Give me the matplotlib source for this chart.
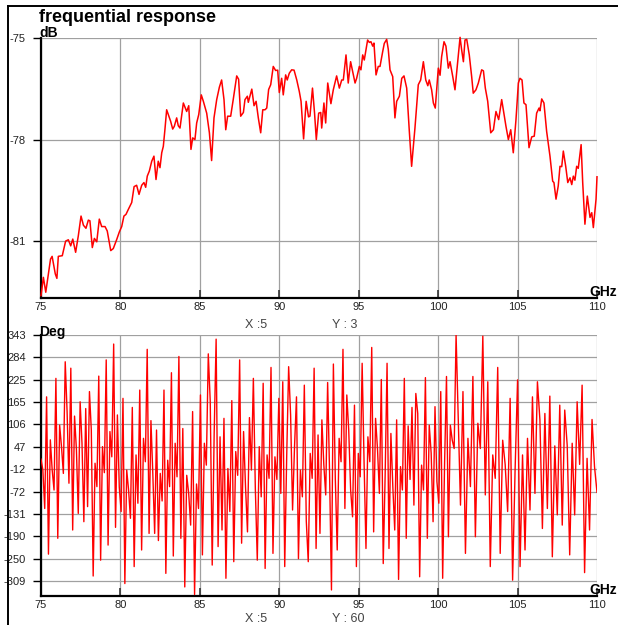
"""
Frequential response of a channel: magnitude (dB) and phase (Deg) vs frequency.
Values read off the reference picture.
"""
import matplotlib
matplotlib.use("Agg")
import matplotlib.pyplot as plt
import numpy as np
from matplotlib.lines import Line2D


# ---- magnitude trace (GHz, dB) ----
MAG_FREQ = [
    75.0, 75.15, 75.3, 75.6, 75.7, 75.9, 76.0, 76.09, 76.34, 76.55, 76.72, 76.87, 77.0,
    77.18, 77.35, 77.52, 77.67, 77.83, 77.98, 78.08, 78.23, 78.36, 78.51, 78.67, 78.82,
    79.03, 79.17, 79.39, 79.55, 79.76, 79.93, 80.08, 80.22, 80.35, 80.5, 80.71, 80.86,
    81.02, 81.17, 81.34, 81.48, 81.59, 81.69, 81.82, 81.97, 82.11, 82.24, 82.38, 82.49,
    82.6, 82.7, 82.8, 82.91, 83.01, 83.16, 83.29, 83.39, 83.54, 83.64, 83.75, 83.96,
    84.06, 84.17, 84.3, 84.44, 84.55, 84.69, 84.8, 84.93, 85.09, 85.22, 85.43, 85.6,
    85.74, 85.89, 86.06, 86.23, 86.37, 86.52, 86.63, 86.75, 86.94, 87.1, 87.32, 87.44,
    87.57, 87.74, 87.84, 87.99, 88.05, 88.27, 88.41, 88.54, 88.68, 88.83, 88.96, 89.1,
    89.21, 89.33, 89.46, 89.62, 89.77, 89.9, 90.0, 90.15, 90.25, 90.4, 90.5, 90.63,
    90.78, 90.93, 91.1, 91.26, 91.37, 91.53, 91.69, 91.84, 91.93, 92.09, 92.22, 92.33,
    92.48, 92.61, 92.67, 92.81, 92.92, 93.05, 93.25, 93.4, 93.61, 93.78, 93.93, 94.03,
    94.2, 94.34, 94.49, 94.62, 94.77, 94.87, 95.04, 95.14, 95.25, 95.35, 95.46, 95.56,
    95.67, 95.77, 95.88, 95.96, 96.09, 96.23, 96.34, 96.51, 96.61, 96.76, 96.86, 96.97,
    97.14, 97.28, 97.39, 97.56, 97.71, 97.85, 98.02, 98.18, 98.33, 98.54, 98.75, 98.9,
    99.07, 99.22, 99.35, 99.44, 99.59, 99.7, 99.82, 100.01, 100.12, 100.22, 100.37,
    100.49, 100.64, 100.75, 100.92, 101.06, 101.21, 101.38, 101.48, 101.59, 101.69,
    101.8, 101.96, 102.11, 102.21, 102.38, 102.53, 102.74, 102.85, 102.97, 103.12,
    103.31, 103.48, 103.64, 103.81, 104.0, 104.15, 104.27, 104.42, 104.57, 104.73,
    104.9, 105.05, 105.15, 105.28, 105.4, 105.53, 105.72, 105.89, 106.05, 106.2, 106.35,
    106.41, 106.52, 106.66, 106.83, 107.04, 107.21, 107.29, 107.42, 107.56, 107.67,
    107.78, 107.88, 108.03, 108.16, 108.3, 108.41, 108.51, 108.61, 108.72, 108.82,
    109.0, 109.1, 109.24, 109.39, 109.56, 109.67, 109.77, 109.94, 110.0,
]
MAG_DB = [
    -82.61, -82.07, -82.51, -81.53, -81.45, -81.97, -82.10, -81.45, -81.43, -81.0, -80.96,
    -81.14, -80.94, -81.33, -80.84, -80.26, -80.53, -80.62, -80.38, -80.40, -81.19, -80.92,
    -81.02, -80.35, -80.57, -80.57, -80.70, -81.28, -81.22, -80.96, -80.73, -80.57, -80.26,
    -80.21, -80.06, -79.86, -79.39, -79.35, -79.62, -79.35, -79.27, -79.41, -79.08, -78.93,
    -78.64, -78.49, -79.18, -78.64, -78.83, -78.39, -78.2, -77.71, -77.12, -77.26, -77.46,
    -77.69, -77.61, -77.36, -77.59, -77.66, -76.92, -77.04, -77.17, -77.0, -78.29, -77.95,
    -78.0, -77.51, -77.26, -76.68, -76.87, -77.22, -77.80, -78.62, -77.36, -76.82, -76.45,
    -76.24, -76.82, -77.71, -77.31, -77.31, -76.82, -76.12, -76.22, -77.31, -77.2, -76.82,
    -76.72, -76.9, -76.51, -77.0, -76.87, -77.36, -77.80, -77.12, -77.12, -77.07, -76.52,
    -76.38, -75.84, -75.96, -75.95, -76.61, -76.19, -76.68, -76.09, -76.24, -76.04, -75.94,
    -75.95, -76.24, -76.58, -76.87, -77.98, -76.87, -77.33, -77.31, -76.48, -77.22, -78.0,
    -77.22, -77.2, -77.66, -76.92, -77.51, -76.33, -76.94, -76.53, -76.12, -76.48, -76.24,
    -76.24, -75.5, -76.33, -75.7, -75.99, -76.33, -76.19, -75.84, -75.94, -75.5, -75.65,
    -75.35, -75.06, -75.13, -75.11, -75.24, -75.15, -76.09, -75.84, -75.84, -75.4, -75.16,
    -75.04, -75.33, -75.94, -76.14, -77.36, -76.87, -76.72, -76.19, -76.12, -76.48, -77.71,
    -78.79, -77.66, -76.38, -76.24, -75.7, -76.24, -76.41, -76.24, -76.53, -76.92, -77.07,
    -75.89, -76.1, -75.55, -75.11, -75.24, -75.89, -75.7, -76.14, -76.53, -75.79, -74.98,
    -75.35, -75.7, -75.06, -75.04, -75.5, -76.14, -76.63, -76.53, -76.33, -75.94, -75.97,
    -76.48, -76.87, -77.80, -77.71, -77.17, -77.41, -76.82, -77.26, -77.61, -78.0, -77.71,
    -78.39, -77.41, -76.33, -76.19, -76.24, -76.92, -76.97, -78.24, -77.92, -77.9, -77.22,
    -77.07, -77.15, -76.8, -76.92, -77.76, -78.49, -79.23, -79.27, -79.76, -79.37, -78.79,
    -78.8, -78.34, -78.79, -79.27, -79.13, -79.33, -79.08, -79.2, -78.79, -78.85, -78.15,
    -79.27, -80.5, -79.67, -80.3, -80.16, -80.6, -79.76, -79.1,
]

# ---- phase trace (Deg), read in four stretches of the band ----
PHASE_BOUNDS = [75.0, 83.68, 92.44, 101.25, 110.0]
PHASE_A = [
    14, -15, -117, 179, -238, 65, -15, -68, 228, -196, 104, 47, -24, 272, 140, -50, 255,
    -174, 128, 40, -130, 166, 56, -152, 148, -112, 193, 91, -296, 3, -59, 234, -254, 47,
    -22, 277, -214, 87, 20, 319, -167, 131, -60, -125, 175, -316, -15, -68, -143, 151,
    -271, 25, -103, 197, -227, 69, 7, 305, -183, 116, -24, -183, 91, -202, -24, -97, 197,
    -289, 11, -59, 243, -243, 56, -33, 286,
]
PHASE_B = [
    -196, 95, -325, -29, -77, -161, 140, -345, -52, -117, 184, -240, 56, -2, 293, 166,
    -267, 82, 332, -218, 73, -174, 122, -302, -11, -125, 169, -258, 34, -29, 277, -209,
    87, -60, -179, 124, -15, 228, -64, -254, 47, -86, 215, -276, 25, -37, 257, -236, 20,
    -40, 175, -77, 219, -271, 20, 259, 131, -121, 47, 179, -250, -15, -86, 210, -150,
    -258, 29, -37, 255, -223, 78,
]
PHASE_C = [
    -183, 118, 0, -81, 217, -20, -333, 266, -37, -227, 69, 7, 305, -117, 184, 91, -68,
    -139, 157, -271, 29, -33, 268, 7, -223, 73, 7, 310, -179, 122, 42, -77, 225, -263,
    -29, 268, -223, 82, -59, -174, 118, -305, -6, -68, 228, -196, 102, -40, 151, -108,
    188, 135, -298, -2, -68, 230, -196, 104, 30, -152, 153, -46, -103, 193, -302, 3, 233,
    -192, 104, 64, 42, 343, 151,
]
PHASE_D = [
    -108, 193, -236, 69, -59, 233, -192, 109, 42, 340, -81, 219, -271, 25, -37, 257, -236,
    64, 0, -125, 175, -307, -15, 224, -271, 25, -227, 69, -121, 179, -77, 219, 118, -170,
    135, -117, 181, -245, 49, -134, 157, -161, 144, 50, -240, 56, -134, 166, 0, 210, -287,
    16, -174, 119, -6, -74,
]

X_TICKS = [75, 80, 85, 90, 95, 100, 105, 110]
DB_TICKS = [-75, -78, -81]
DEG_TICKS = [343, 284, 225, 165, 106, 47, -12, -72, -131, -190, -250, -309]

RED = "#ff0000"
GRID = "#a0a0a0"
TICK_FONT = dict(family="Liberation Sans", size=8, color="#222222")


def phase_frequencies():
    parts = []
    for i, seg in enumerate([PHASE_A, PHASE_B, PHASE_C, PHASE_D]):
        lo, hi = PHASE_BOUNDS[i], PHASE_BOUNDS[i + 1]
        if i == 0:
            parts.append(np.linspace(lo, hi, len(seg)))
        else:
            parts.append(np.linspace(lo, hi, len(seg) + 1)[1:])
    return np.concatenate(parts)


def style_axes(ax, yticks, ylim):
    ax.set_xlim(75, 110)
    ax.set_ylim(*ylim)
    ax.set_xticks(X_TICKS)
    ax.set_yticks(yticks)
    ax.set_yticklabels([str(v) for v in yticks], **TICK_FONT)
    ax.set_xticklabels([str(v) for v in X_TICKS], **TICK_FONT)
    ax.grid(True, color=GRID, lw=0.9, zorder=0)
    ax.set_axisbelow(True)
    for side in ["top", "right"]:
        ax.spines[side].set_visible(False)
    for side in ["left", "bottom"]:
        ax.spines[side].set_linewidth(1.6)
        ax.spines[side].set_color("black")
    ax.tick_params(axis="y", direction="out", length=6, width=1, pad=5, color="black")
    ax.tick_params(axis="x", direction="in", length=6, width=1.2, pad=3, color="#333333")


if __name__ == "__main__":
    fig = plt.figure(figsize=(6.18, 6.25), dpi=100)

    ax_top = fig.add_axes([41 / 618, 1 - 298 / 625, 556 / 618, 260 / 625])
    ax_bot = fig.add_axes([41 / 618, 1 - 596 / 625, 556 / 618, 261 / 625])

    ax_top.plot(MAG_FREQ, MAG_DB, color=RED, lw=1.1, zorder=3, clip_on=False)
    style_axes(ax_top, DB_TICKS, (-82.68, -75))

    phase = PHASE_A + PHASE_B + PHASE_C + PHASE_D
    ax_bot.plot(phase_frequencies(), phase, color=RED, lw=1.0, zorder=3)
    style_axes(ax_bot, DEG_TICKS, (-349, 343))

    # outer frame (left and top edge)
    fig.add_artist(Line2D([8 / 618, 8 / 618], [0, 1 - 6 / 625], color="black", lw=1.4))
    fig.add_artist(Line2D([8 / 618, 1], [1 - 6 / 625, 1 - 6 / 625], color="black", lw=1.4))

    bold = dict(family="Liberation Sans", weight="bold", color="black")
    fig.text(39 / 618, 1 - 22 / 625, "frequential response", size=13, **bold)
    fig.text(39 / 618, 1 - 37 / 625, "dB", size=10, **bold)
    fig.text(39 / 618, 1 - 336 / 625, "Deg", size=10, **bold)
    fig.text(589 / 618, 1 - 296 / 625, "GHz", size=10, **bold)
    fig.text(589 / 618, 1 - 594 / 625, "GHz", size=10, **bold)

    plain = dict(family="Liberation Sans", size=9, color="#444444")
    fig.text(245 / 618, 1 - 328 / 625, "X :5", **plain)
    fig.text(332 / 618, 1 - 328 / 625, "Y : 3", **plain)
    fig.text(245 / 618, 1 - 622 / 625, "X :5", **plain)
    fig.text(332 / 618, 1 - 622 / 625, "Y : 60", **plain)

    fig.savefig("out.png", dpi=100, facecolor="white")
    plt.close(fig)
